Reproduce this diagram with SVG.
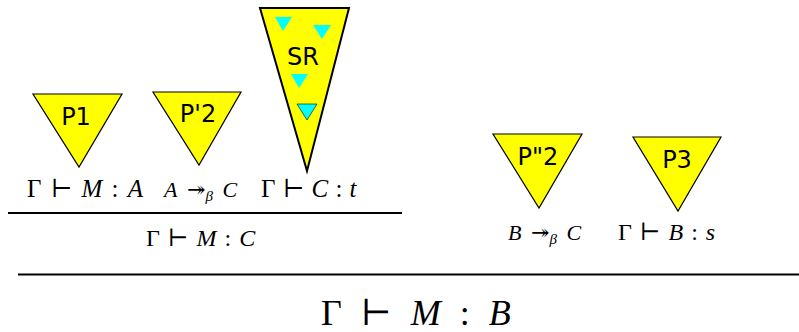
<svg xmlns="http://www.w3.org/2000/svg" width="799" height="332" viewBox="0 0 799 332">
<style>
.tri{fill:#ffff00;stroke:#000;stroke-width:1.2}
.cy{fill:#00ffff;stroke:none}
.lbl{font-family:"DejaVu Sans",sans-serif;font-size:24px;fill:#000;text-anchor:middle}
.m{font-family:"Liberation Serif","DejaVu Serif",serif;fill:#000}
.i{font-style:italic}
.rule{stroke:#000;stroke-width:2}
</style>
<rect width="799" height="332" fill="#fff"/>
<g id="P1">
<polygon class="tri" points="33,94 122,94 79,167"/>
<text class="lbl" x="76" y="125">P1</text>
</g>
<g id="P2a">
<polygon class="tri" points="153,92 241,92 199,165"/>
<text class="lbl" x="198" y="122">P'2</text>
</g>
<g id="SR">
<polygon class="tri" style="stroke-width:2" points="260,8 349,8 307,171"/>
<polygon class="cy" points="275,17 292,17 283,31"/>
<polygon class="cy" points="313,25 331,25 322,39"/>
<polygon class="cy" points="291,74 308,74 299,88"/>
<polygon class="cy" points="297,104 317,104 307,120" style="stroke:#000;stroke-width:0.6"/>
<text class="lbl" x="303" y="65">SR</text>
</g>
<g id="P2b">
<polygon class="tri" points="493,134 582,134 539,208"/>
<text class="lbl" x="538" y="165">P"2</text>
</g>
<g id="P3">
<polygon class="tri" points="633,137 721,137 678,211"/>
<text class="lbl" x="677" y="168">P3</text>
</g>
<g id="rules">
<line class="rule" x1="8" y1="213" x2="402" y2="213"/>
<line class="rule" x1="18" y1="274.5" x2="799" y2="274.5"/>
</g>
<g id="formulas">
<text class="m" x="27" y="197" font-size="25" word-spacing="3">Γ ⊢ <tspan class="i">M</tspan> : <tspan class="i">A</tspan></text>
<text class="m" x="164" y="197" font-size="22" word-spacing="4"><tspan class="i">A</tspan> ↠<tspan class="i" font-size="15" dy="4">β</tspan><tspan dy="-4"> </tspan><tspan class="i">C</tspan></text>
<text class="m" x="261" y="197" font-size="25" word-spacing="1">Γ ⊢ <tspan class="i">C</tspan> : <tspan class="i">t</tspan></text>
<text class="m" x="146" y="246" font-size="24" word-spacing="2">Γ ⊢ <tspan class="i">M</tspan> : <tspan class="i">C</tspan></text>
<text class="m" x="508" y="240" font-size="22" word-spacing="4"><tspan class="i">B</tspan> ↠<tspan class="i" font-size="15" dy="4">β</tspan><tspan dy="-4"> </tspan><tspan class="i">C</tspan></text>
<text class="m" x="618" y="240" font-size="24" word-spacing="2">Γ ⊢ <tspan class="i">B</tspan> : <tspan class="i">s</tspan></text>
<text class="m" x="321" y="325" font-size="36" word-spacing="10">Γ ⊢ <tspan class="i">M</tspan> : <tspan class="i">B</tspan></text>
</g>
</svg>
